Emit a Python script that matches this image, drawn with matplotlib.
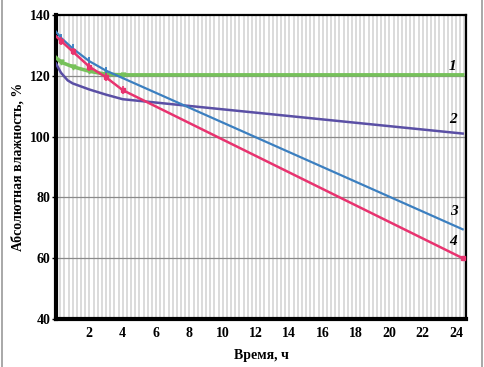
import matplotlib.pyplot as plt
import numpy as np
from matplotlib.lines import Line2D

# Кривые сушки (время, ч -> абсолютная влажность, %)
t1 = [0.0, 0.3, 1.0, 2.0, 3.0, 4.0, 24.4]
w1 = [126.0, 124.5, 123.0, 121.5, 120.5, 120.3, 120.3]

t2 = [0.0, 0.3, 0.7, 1.0, 2.0, 3.0, 4.0, 24.4]
w2 = [124.0, 121.0, 118.5, 117.5, 115.5, 113.8, 112.3, 101.0]

t3 = [0.0, 0.3, 1.0, 2.0, 3.0, 24.4]
w3 = [134.5, 132.5, 129.0, 124.8, 121.7, 69.5]

t4 = [0.0, 0.3, 1.0, 2.0, 3.0, 4.0, 24.4]
w4 = [133.0, 131.5, 128.0, 123.0, 119.5, 115.3, 60.0]

metki = ['1', '2', '3', '4']
metki_x = [23.8, 23.8, 23.9, 23.8]
metki_y = [123.2, 105.5, 75.5, 65.5]

xtiki = [2, 4, 6, 8, 10, 12, 14, 16, 18, 20, 22, 24]
ytiki = [40, 60, 80, 100, 120, 140]

serif = ['Liberation Serif', 'DejaVu Serif']

fig = plt.figure(figsize=(4.84, 3.67), dpi=100)
ax = fig.add_axes([56/484, 1-319/367, 410/484, 304/367])

# Рамка рисунка
fig.add_artist(Line2D([0.004, 0.004], [0, 1], color='#999999', lw=1.2))
fig.add_artist(Line2D([0.995, 0.995], [0, 1], color='#999999', lw=1.2))

# Сетка
for x in np.arange(0.25, 24.6, 0.25):
  ax.axvline(x, color='#d4d4d4', lw=1.2, zorder=0)
for y in [60, 80, 100, 120]:
  ax.axhline(y, color='#8a8a8a', lw=0.9, zorder=1)

# Кривые
ax.plot(t1, w1, color='#76c15a', lw=2.6, zorder=3)
ax.plot(t1[1:-1], w1[1:-1], ls='none', marker='v', ms=3.5, color='#76c15a', zorder=3)
ax.plot(t2, w2, color='#5a4fa5', lw=1.8, zorder=3)
ax.plot(t3, w3, color='#3b7fc0', lw=1.6, zorder=4)
ax.plot(t3[1:-1], w3[1:-1], ls='none', marker='|', ms=6, mew=1.3, color='#3b7fc0', zorder=4)
ax.plot(t4, w4, color='#e8336f', lw=1.8, zorder=5)
ax.plot(t4[1:], w4[1:], ls='none', marker='s', ms=3, color='#e8336f', zorder=5)
ax.errorbar(t4[1:-1], w4[1:-1], yerr=1.3, ls='none', ecolor='#e8336f', elinewidth=1.2, zorder=5)

for m, x, y in zip(metki, metki_x, metki_y):
  ax.text(x, y, m, family=serif, fontsize=11, fontweight='bold', fontstyle='italic',
          ha='center', va='center', color='black')

ax.set_xlim(0, 24.6)
ax.set_ylim(40, 140)
ax.set_xticks(xtiki)
ax.set_yticks(ytiki)
ax.tick_params(axis='x', length=0, pad=6)
ax.tick_params(axis='y', length=3, width=1, pad=1)
for lab in ax.get_xticklabels() + ax.get_yticklabels():
  lab.set_family(serif)
  lab.set_fontweight('bold')
  lab.set_fontsize(10)

ax.spines['left'].set_linewidth(3)
ax.spines['bottom'].set_linewidth(3)
ax.spines['top'].set_linewidth(1.6)
ax.spines['right'].set_linewidth(1.6)

ax.set_xlabel('Время, ч', family=serif, fontweight='bold', fontsize=10, labelpad=6)
ax.set_ylabel('Абсолютная влажность, %', family=serif, fontweight='bold', fontsize=10, labelpad=4)

fig.savefig('out.png', dpi=100)
